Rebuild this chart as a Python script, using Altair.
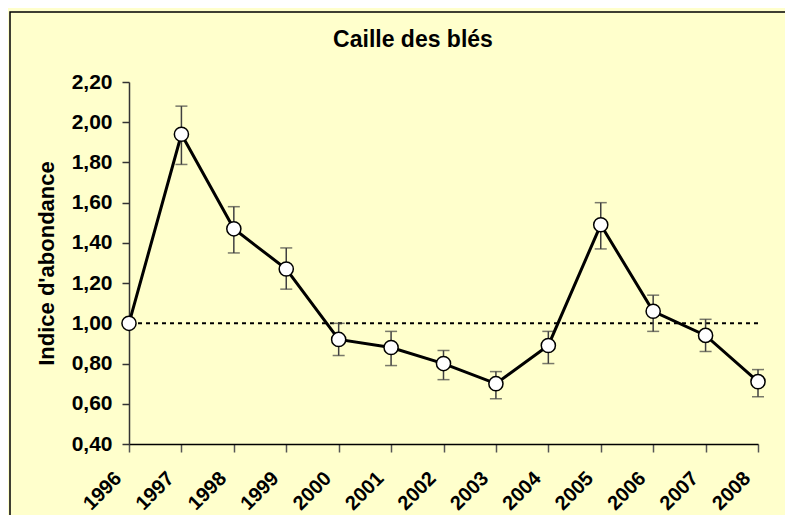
import altair as alt
import pandas as pd

years = [1996, 1997, 1998, 1999, 2000, 2001, 2002, 2003, 2004, 2005, 2006, 2007, 2008]
index = [1.00, 1.94, 1.47, 1.27, 0.92, 0.88, 0.80, 0.70, 0.89, 1.49, 1.06, 0.94, 0.71]
upper = [None, 2.08, 1.58, 1.375, 1.00, 0.96, 0.865, 0.76, 0.96, 1.60, 1.14, 1.02, 0.77]
lower = [None, 1.79, 1.35, 1.17, 0.84, 0.79, 0.72, 0.625, 0.80, 1.37, 0.96, 0.86, 0.635]
y_ticks = [0.4, 0.6, 0.8, 1.0, 1.2, 1.4, 1.6, 1.8, 2.0, 2.2]
reference_level = 1.0
title_text = "Caille des blés"
y_title = "Indice d'abondance"

FONT = "Liberation Sans"
W, H = 629, 362
PAD = {"left": 121, "top": 74, "right": 27, "bottom": 71}

df = pd.DataFrame({"year": years, "idx": index, "hi": upper, "lo": lower})

x_enc = alt.X(
    "year:O",
    scale=alt.Scale(type="point", padding=0),
    axis=alt.Axis(
        title=None,
        labelAngle=-45,
        labelAlign="right",
        labelBaseline="middle",
        labelFont=FONT,
        labelFontSize=20,
        labelFontWeight="bold",
        labelColor="black",
        labelPadding=23,
        labelOffset=-11,
        tickSize=8,
        tickColor="#555555",
        tickWidth=1.5,
        domainColor="black",
        domainWidth=1.5,
        grid=False,
    ),
)

y_scale = alt.Scale(domain=[0.4, 2.2], nice=False, zero=False)

y_axis = alt.Axis(
    title=y_title,
    titleFont=FONT,
    titleFontSize=22,
    titleFontWeight="bold",
    titleColor="black",
    titlePadding=13,
    values=y_ticks,
    labelExpr="replace(format(datum.value, '.2f'), '.', ',')",
    labelFont=FONT,
    labelFontSize=21,
    labelFontWeight="bold",
    labelColor="black",
    labelPadding=10,
    tickSize=7,
    tickColor="#333333",
    tickWidth=1.5,
    domainColor="#333333",
    domainWidth=1.5,
    grid=False,
)

base = alt.Chart(df)

frame = base.transform_filter("datum.year == 1996").mark_rect(
    filled=False, stroke="black", strokeWidth=1.5
).encode(
    x=alt.value(-119), x2=alt.value(W + PAD["right"] + 10),
    y=alt.value(-70), y2=alt.value(H + PAD["bottom"] + 10),
)

title = base.transform_filter("datum.year == 1996").transform_calculate(
    t="'" + title_text + "'"
).mark_text(
    font=FONT, fontSize=23, fontWeight="bold", color="black",
    align="center", baseline="alphabetic"
).encode(text="t:N", x=alt.value(284), y=alt.value(-35))

ref = alt.Chart(pd.DataFrame({"v": [reference_level]})).mark_rule(
    color="black", strokeDash=[4, 4], strokeWidth=2
).encode(y=alt.Y("v:Q", scale=y_scale, axis=y_axis))

err = base.transform_filter("isValid(datum.hi)").mark_rule(
    color="#404040", strokeWidth=1.5
).encode(x=x_enc, y=alt.Y("lo:Q", scale=y_scale, axis=y_axis), y2="hi:Q")

cap_hi = base.transform_filter("isValid(datum.hi)").mark_tick(
    color="#404040", thickness=1.5, size=12, orient="horizontal"
).encode(x=x_enc, y=alt.Y("hi:Q", scale=y_scale, axis=y_axis))

cap_lo = base.transform_filter("isValid(datum.lo)").mark_tick(
    color="#404040", thickness=1.5, size=12, orient="horizontal"
).encode(x=x_enc, y=alt.Y("lo:Q", scale=y_scale, axis=y_axis))

line = base.mark_line(color="black", strokeWidth=3).encode(
    x=x_enc, y=alt.Y("idx:Q", scale=y_scale, axis=y_axis)
)

pts = base.mark_point(
    shape="circle", filled=True, fill="white", stroke="black",
    strokeWidth=1.5, size=200, opacity=1
).encode(x=x_enc, y=alt.Y("idx:Q", scale=y_scale, axis=y_axis))

chart = alt.layer(frame, title, ref, err, cap_hi, cap_lo, line, pts).properties(
    width=W, height=H,
    autosize=alt.AutoSizeParams(type="none"),
    padding=PAD,
    background="#FFFFCC",
).configure_view(stroke=None)

chart.save("out.html", embed_options={"renderer": "svg", "actions": False})
